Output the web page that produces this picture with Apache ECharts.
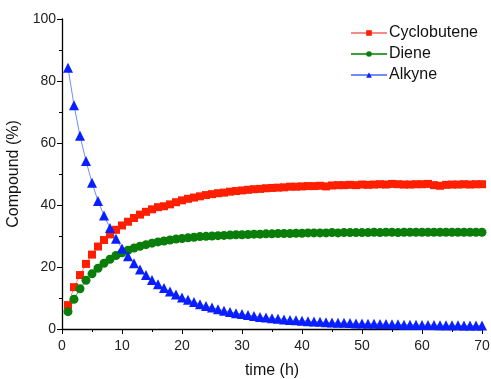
<!DOCTYPE html>
<html><head><meta charset="utf-8">
<script src="https://cdn.jsdelivr.net/npm/echarts@6/dist/echarts.min.js"></script>
<style>html,body{margin:0;padding:0;background:#fff}#c{width:491px;height:379px}</style>
</head><body><div id="c"></div>
<script>
const times = Array.from({length:70},(_,i)=>i+1);
const cyclobutene = [7.7,13.5,17.4,21.0,24.0,26.6,28.7,30.5,32.0,33.4,34.6,35.8,36.9,37.8,38.6,39.3,39.6,40.2,40.9,41.5,
42.0,42.4,42.8,43.2,43.5,43.8,44.0,44.3,44.5,44.7,44.9,45.1,45.2,45.4,45.5,45.6,45.7,45.9,45.9,46.0,
46.1,46.1,46.2,46.0,46.3,46.4,46.4,46.5,46.4,46.6,46.5,46.6,46.7,46.6,46.8,46.7,46.6,46.6,46.7,46.7,
46.8,46.4,46.2,46.5,46.6,46.6,46.7,46.6,46.7,46.7];
const diene = [5.6,9.6,13.0,15.7,17.8,19.6,21.2,22.5,23.7,24.6,25.4,26.1,26.7,27.2,27.7,28.1,28.4,28.7,29.0,29.2,
29.4,29.6,29.8,29.9,30.0,30.1,30.2,30.3,30.4,30.4,30.5,30.6,30.6,30.7,30.7,30.8,30.8,30.8,30.9,30.9,
31.0,31.0,31.0,31.0,31.1,31.0,31.1,31.1,31.1,31.1,31.1,31.2,31.1,31.2,31.2,31.1,31.2,31.2,31.2,31.2,
31.2,31.2,31.2,31.2,31.2,31.2,31.2,31.2,31.2,31.2];
const alkyne = [84.3,72.2,62.3,54.2,47.2,41.3,36.6,32.6,29.1,26.0,23.5,21.2,19.2,17.4,15.8,14.4,13.2,12.1,11.1,10.2,
9.4,8.7,8.0,7.4,6.9,6.4,5.9,5.5,5.1,4.8,4.5,4.2,3.9,3.7,3.5,3.3,3.1,2.9,2.8,2.7,
2.5,2.4,2.3,2.2,2.1,2.0,2.0,1.9,1.8,1.8,1.7,1.7,1.6,1.6,1.5,1.5,1.4,1.4,1.4,1.3,
1.3,1.3,1.2,1.2,1.2,1.2,1.1,1.1,1.1,1.1];
const seriesNames = ['Cyclobutene','Diene','Alkyne'];
const xTicks = {min:0,max:70,interval:10};
const yTicks = {min:0,max:100,interval:20};

const pair = arr => times.map((t,i)=>[t,arr[i]]);
const chart = echarts.init(document.getElementById('c'));
const font = 'Liberation Sans, Arial, sans-serif';
const axisCommon = {
  axisLine:{show:true,onZero:false,lineStyle:{color:'#000',width:1.3}},
  axisTick:{show:true,inside:false,length:5,lineStyle:{color:'#000',width:1}},
  minorTick:{show:true,splitNumber:2,length:3,lineStyle:{color:'#000',width:1}},
  splitLine:{show:false},
  nameTextStyle:{color:'#111',fontSize:16,fontFamily:font}
};
chart.setOption({
  animation:false,
  grid:{left:62,right:9,top:19,bottom:50,containLabel:false,outerBoundsMode:'none'},
  legend:{
    orient:'vertical',left:345,top:20,itemWidth:36,itemHeight:7,itemGap:5,
    textStyle:{color:'#111',fontSize:16,fontFamily:font,padding:[0,0,0,-3]},
    data:seriesNames
  },
  xAxis:Object.assign({type:'value',min:xTicks.min,max:xTicks.max,interval:xTicks.interval,
    name:'time (h)',nameLocation:'middle',nameGap:34,
    axisLabel:{color:'#222',fontSize:14,fontFamily:font,margin:10}},axisCommon),
  yAxis:Object.assign({type:'value',min:yTicks.min,max:yTicks.max,interval:yTicks.interval,
    name:'Compound (%)',nameLocation:'middle',nameGap:36,
    axisLabel:{color:'#222',fontSize:14,fontFamily:font,margin:6}},axisCommon),
  series:[
    {name:seriesNames[0],type:'line',data:pair(cyclobutene),symbol:'rect',symbolSize:8,
      itemStyle:{color:'#ff1f00'},lineStyle:{color:'#f58a8a',width:1}},
    {name:seriesNames[1],type:'line',data:pair(diene),symbol:'circle',symbolSize:9,
      itemStyle:{color:'#0a7d0a'},lineStyle:{color:'#3aa03a',width:1}},
    {name:seriesNames[2],type:'line',data:pair(alkyne),symbol:'triangle',symbolSize:10,
      itemStyle:{color:'#0a1fff'},lineStyle:{color:'#6f8cff',width:1}}
  ]
});
</script></body></html>
